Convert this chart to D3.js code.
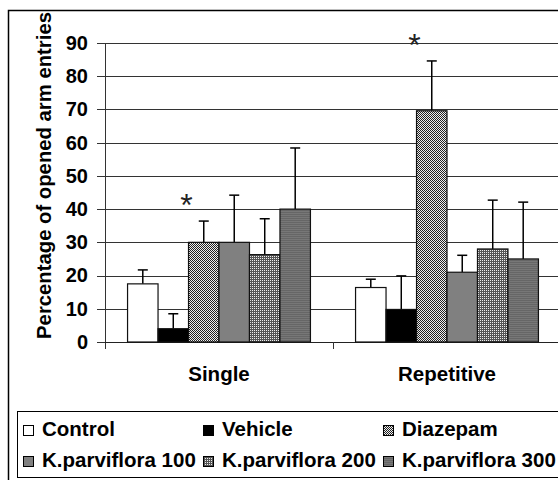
<!DOCTYPE html>
<meta charset="utf-8">
<style>
body { margin: 0; background: #fff; }
svg { display: block; font-family: "Liberation Sans", Arial, sans-serif; font-weight: bold; }
.grid line { stroke: #333; stroke-width: 1; shape-rendering: crispEdges; }
.axis path, .axis line { stroke: #333; shape-rendering: crispEdges; }
.axis text { font-size: 20px; font-weight: bold; fill: #000; font-family: "Liberation Sans", Arial, sans-serif; }
.err line { stroke: #000; stroke-width: 1.5; }
</style>
<svg width="558" height="480"></svg>
<script src="https://cdnjs.cloudflare.com/ajax/libs/d3/7.8.5/d3.min.js"></script>
<script>

// groups along the x axis
var groups = ["Single", "Repetitive"];
// treatments (one bar each per group)
var series = ["Control", "Vehicle", "Diazepam", "K.parviflora 100", "K.parviflora 200", "K.parviflora 300"];
// mean % of opened arm entries
var singleMean = [17.5, 4.0, 30.0, 30.0, 26.3, 40.0];
var repetitiveMean = [16.4, 9.8, 69.6, 21.0, 28.0, 25.0];
// error (upper bar only)
var singleErr = [4.2, 4.5, 6.4, 14.2, 10.8, 18.4];
var repetitiveErr = [2.5, 10.1, 15.0, 5.1, 14.7, 17.1];
// which treatment is marked with *
var starred = ["Diazepam"];
var yTicks = [0, 10, 20, 30, 40, 50, 60, 70, 80, 90];

var svg = d3.select("svg");

var data = [];
groups.forEach(function(g, gi) {
  var m = gi == 0 ? singleMean : repetitiveMean;
  var e = gi == 0 ? singleErr : repetitiveErr;
  series.forEach(function(s, i) {
    data.push({group: g, name: s, value: m[i], err: e[i]});
  });
});

// plot area (window.top is taken, so own names)
var pLeft = 105, pRight = 561, pTop = 43, pBottom = 342;

var x0 = d3.scaleBand().domain(groups).range([pLeft, pRight]).padding(0);
var x1 = d3.scaleBand().domain(series).range([0, x0.bandwidth()]).paddingInner(0).paddingOuter(0.74);
var y = d3.scaleLinear().domain([0, 90]).range([pBottom, pTop]);

// patterns
var defs = svg.append("defs");
var p = defs.append("pattern").attr("id", "pDiaz").attr("width", 2).attr("height", 2).attr("patternUnits", "userSpaceOnUse");
p.append("rect").attr("width", 2).attr("height", 2).attr("fill", "#eee");
p.append("rect").attr("width", 1).attr("height", 1).attr("fill", "#222");
p.append("rect").attr("x", 1).attr("y", 1).attr("width", 1).attr("height", 1).attr("fill", "#222");

p = defs.append("pattern").attr("id", "pK200").attr("width", 2).attr("height", 2).attr("patternUnits", "userSpaceOnUse");
p.append("rect").attr("width", 2).attr("height", 2).attr("fill", "#555");
p.append("rect").attr("width", 1).attr("height", 1).attr("fill", "#eee");

p = defs.append("pattern").attr("id", "pK300").attr("width", 2).attr("height", 2).attr("patternUnits", "userSpaceOnUse");
p.append("rect").attr("width", 2).attr("height", 2).attr("fill", "#777");
p.append("rect").attr("width", 2).attr("height", 1).attr("fill", "#666");

var fills = {
  "Control": "#fff",
  "Vehicle": "#000",
  "Diazepam": "url(#pDiaz)",
  "K.parviflora 100": "#808080",
  "K.parviflora 200": "url(#pK200)",
  "K.parviflora 300": "url(#pK300)"
};

// outer frame
svg.append("rect")
  .attr("x", 8.5).attr("y", 10.5).attr("width", 600).attr("height", 500)
  .attr("fill", "#fff").attr("stroke", "#000").attr("stroke-width", 1.5);

// gridlines
svg.append("g").attr("class", "grid")
  .selectAll("line").data(yTicks.slice(1)).enter().append("line")
  .attr("x1", pLeft - 8).attr("x2", 600)
  .attr("y1", function(d) { return Math.round(y(d)) + 0.5; })
  .attr("y2", function(d) { return Math.round(y(d)) + 0.5; });

// y axis
var yAxis = svg.append("g").attr("class", "axis")
  .attr("transform", "translate(" + pLeft + ",0)")
  .call(d3.axisLeft(y).tickValues(yTicks).tickSize(8).tickPadding(9).tickSizeOuter(0));
yAxis.select(".domain").remove();
svg.append("line").attr("x1", pLeft + 0.5).attr("x2", pLeft + 0.5).attr("y1", pTop).attr("y2", pBottom + 7)
  .attr("stroke", "#333").style("shape-rendering", "crispEdges");

// x axis
svg.append("line").attr("x1", pLeft).attr("x2", 600).attr("y1", pBottom + 0.5).attr("y2", pBottom + 0.5)
  .attr("stroke", "#222").style("shape-rendering", "crispEdges");
svg.append("g").selectAll("line").data(groups.slice(1)).enter().append("line")
  .attr("x1", function(d) { return x0(d) + 0.5; }).attr("x2", function(d) { return x0(d) + 0.5; })
  .attr("y1", pBottom).attr("y2", pBottom + 7)
  .attr("stroke", "#333").style("shape-rendering", "crispEdges");
svg.append("g").selectAll("text").data(groups).enter().append("text")
  .attr("x", function(d) { return x0(d) + x0.bandwidth() / 2; })
  .attr("y", 381)
  .attr("text-anchor", "middle")
  .style("font-size", "20.5px")
  .text(function(d) { return d; });

// y title
svg.append("text")
  .attr("transform", "translate(51," + 175.5 + ") rotate(-90)")
  .attr("text-anchor", "middle")
  .style("font-size", "20.3px")
  .text("Percentage of opened arm entries");

// error bars (drawn first so bars cover the base)
var err = svg.append("g").attr("class", "err")
  .selectAll("g").data(data).enter().append("g");
err.append("line")
  .attr("x1", function(d) { return x0(d.group) + x1(d.name) + x1.bandwidth() / 2; })
  .attr("x2", function(d) { return x0(d.group) + x1(d.name) + x1.bandwidth() / 2; })
  .attr("y1", function(d) { return y(d.value); })
  .attr("y2", function(d) { return y(d.value + d.err); });
err.append("line")
  .attr("x1", function(d) { return x0(d.group) + x1(d.name) + x1.bandwidth() / 2 - 5; })
  .attr("x2", function(d) { return x0(d.group) + x1(d.name) + x1.bandwidth() / 2 + 5; })
  .attr("y1", function(d) { return y(d.value + d.err); })
  .attr("y2", function(d) { return y(d.value + d.err); });

// bars
svg.append("g").selectAll("rect").data(data).enter().append("rect")
  .attr("x", function(d) { return x0(d.group) + x1(d.name); })
  .attr("y", function(d) { return y(d.value); })
  .attr("width", x1.bandwidth())
  .attr("height", function(d) { return y(0) - y(d.value); })
  .attr("fill", function(d) { return fills[d.name]; })
  .attr("stroke", "#111")
  .attr("stroke-width", 1.2);

// significance stars
svg.append("g").selectAll("text").data(data.filter(function(d) { return starred.indexOf(d.name) >= 0; }))
  .enter().append("text")
  .attr("x", function(d) { return x0(d.group) + x1(d.name) - 2; })
  .attr("y", function(d) { return y(d.value + d.err) - 5; })
  .attr("text-anchor", "middle")
  .style("font-size", "32px")
  .style("font-weight", "normal")
  .attr("fill", "#222")
  .text("*");

// legend
svg.append("rect")
  .attr("x", 17.5).attr("y", 411.5).attr("width", 600).attr("height", 66)
  .attr("fill", "#fff").attr("stroke", "#000").attr("stroke-width", 1);

var legX = [23, 203, 383], legY = [425, 456];
var leg = svg.append("g").selectAll("g").data(series).enter().append("g")
  .attr("transform", function(d, i) { return "translate(" + legX[i % 3] + "," + legY[Math.floor(i / 3)] + ")"; });
leg.append("rect")
  .attr("x", 0.5).attr("y", 0.5).attr("width", 10).attr("height", 10)
  .attr("fill", function(d) { return fills[d]; })
  .attr("stroke", "#000");
leg.append("text")
  .attr("x", 19).attr("y", 11)
  .style("font-size", "20.5px")
  .text(function(d) { return d; });

</script>
